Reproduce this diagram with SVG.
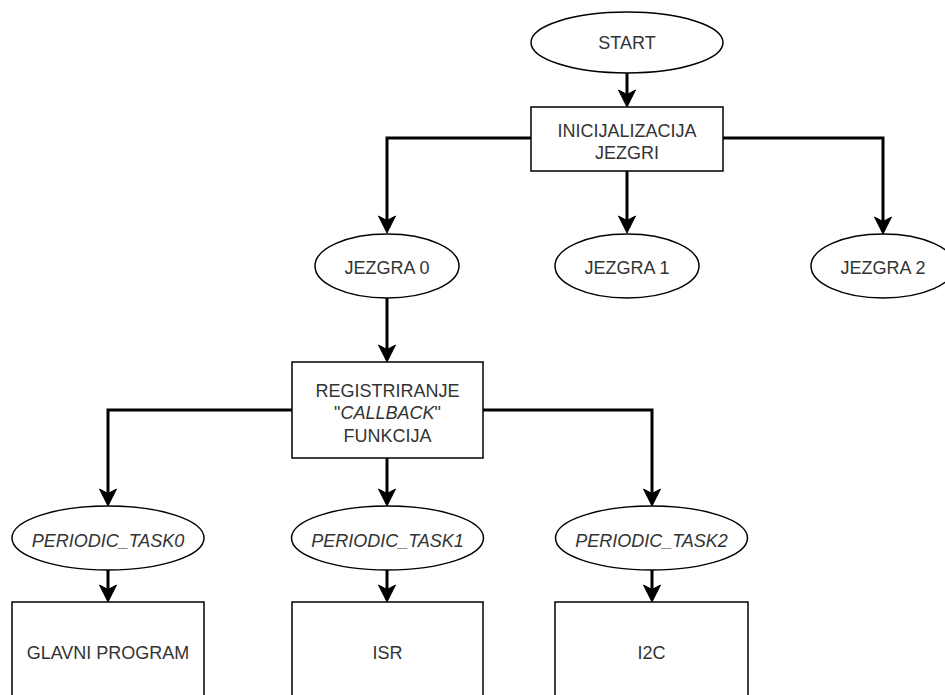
<svg xmlns="http://www.w3.org/2000/svg" width="945" height="695" viewBox="0 0 945 695">
<style>
.n{fill:#fff;stroke:#000;stroke-width:1.5}
.t{font-family:"Liberation Sans",Arial,sans-serif;font-size:18px;fill:#333;text-anchor:middle}
.i{font-style:italic}
.c{fill:none;stroke:#000;stroke-width:3}
</style>
<defs>
<marker id="ah" markerUnits="userSpaceOnUse" markerWidth="20" markerHeight="20" refX="10" refY="10" orient="auto">
<path d="M18,10 L1,1.5 L5.5,10 L1,18.5 Z" fill="#000" stroke="#000" stroke-width="1"/>
</marker>
</defs>
<rect width="945" height="695" fill="#fff"/>
<g id="connectors">
<path class="c" d="M627,73 L627,99" marker-end="url(#ah)"/>
<path class="c" d="M531,138 L387,138 L387,225" marker-end="url(#ah)"/>
<path class="c" d="M627,171 L627,225" marker-end="url(#ah)"/>
<path class="c" d="M723,138 L883,138 L883,226" marker-end="url(#ah)"/>
<path class="c" d="M387,298 L387,354" marker-end="url(#ah)"/>
<path class="c" d="M292,410 L108,410 L108,498" marker-end="url(#ah)"/>
<path class="c" d="M387,458 L387,498" marker-end="url(#ah)"/>
<path class="c" d="M483,410 L652,410 L652,498" marker-end="url(#ah)"/>
<path class="c" d="M108,570 L108,594" marker-end="url(#ah)"/>
<path class="c" d="M387,570 L387,594" marker-end="url(#ah)"/>
<path class="c" d="M652,570 L652,594" marker-end="url(#ah)"/>
</g>
<g id="start"><ellipse class="n" cx="627" cy="42.5" rx="96" ry="30.5"/><text class="t" x="627" y="49">START</text></g>
<g id="init"><rect class="n" x="531" y="107" width="192" height="64"/><text class="t" x="627" y="136.5">INICIJALIZACIJA</text><text class="t" x="627" y="158.5">JEZGRI</text></g>
<g id="jezgra0"><ellipse class="n" cx="387" cy="266" rx="72" ry="32"/><text class="t" x="387" y="273.5">JEZGRA 0</text></g>
<g id="jezgra1"><ellipse class="n" cx="627" cy="266" rx="72" ry="32"/><text class="t" x="627" y="273.5">JEZGRA 1</text></g>
<g id="jezgra2"><ellipse class="n" cx="883" cy="266" rx="72" ry="32"/><text class="t" x="883" y="273.5">JEZGRA 2</text></g>
<g id="reg"><rect class="n" x="292" y="362" width="191" height="96"/><text class="t" x="387.5" y="396.5">REGISTRIRANJE</text><text class="t" x="387.5" y="419">"<tspan class="i">CALLBACK</tspan>"</text><text class="t" x="387.5" y="441.5">FUNKCIJA</text></g>
<g id="task0"><ellipse class="n" cx="108" cy="538" rx="96" ry="32"/><text class="t i" x="108" y="546.5">PERIODIC_TASK0</text></g>
<g id="task1"><ellipse class="n" cx="387.5" cy="538" rx="96" ry="32"/><text class="t i" x="387.5" y="546.5">PERIODIC_TASK1</text></g>
<g id="task2"><ellipse class="n" cx="651.5" cy="538" rx="96" ry="32"/><text class="t i" x="651.5" y="546.5">PERIODIC_TASK2</text></g>
<g id="glavni"><rect class="n" x="12" y="602" width="192" height="110"/><text class="t" x="108" y="658.5">GLAVNI PROGRAM</text></g>
<g id="isr"><rect class="n" x="292" y="602" width="191" height="110"/><text class="t" x="387.5" y="658.5">ISR</text></g>
<g id="i2c"><rect class="n" x="555" y="602" width="193" height="110"/><text class="t" x="651.5" y="658.5">I2C</text></g>
</svg>
